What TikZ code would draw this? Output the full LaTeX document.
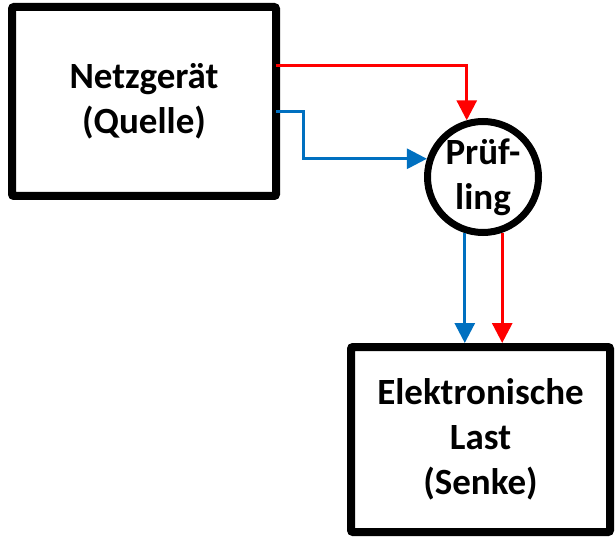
\documentclass[tikz,border=0pt]{standalone}
\usepackage{fontspec}
\setmainfont{Carlito}
\usetikzlibrary{arrows.meta,calc}
\definecolor{ored}{RGB}{255,0,0}
\definecolor{oblue}{RGB}{0,112,192}
\begin{document}
\begin{tikzpicture}[x=1pt,y=-1pt,
  lbl/.style={font=\fontsize{37}{45}\selectfont\bfseries,align=center},
  blockbox/.style={draw=black,line width=8pt,rounded corners=2pt,inner sep=0pt,outer sep=0pt,fill=white,lbl},
  dut/.style={draw=black,line width=7pt,circle,inner sep=0pt,minimum size=111pt,fill=white,lbl},
  wire/.style={line width=3pt,-{Triangle[length=20pt,width=20pt]}},
  redw/.style={wire,draw=ored},
  bluew/.style={wire,draw=oblue}]
\useasboundingbox (0,0) rectangle (615,537);
\node[blockbox,minimum width=264pt,minimum height=189pt] (src) at (144,101.5) {Netzgerät\\(Quelle)};
\node[blockbox,minimum width=259pt,minimum height=185pt,outer sep=4pt] (load) at (480.5,439.5) {Elektronische\\Last\\(Senke)};
\node[dut] (pr) at (483,177) {Prüf-\\ling};
\coordinate (r0) at (276,66);
\coordinate (b0) at (276,112);
\draw[redw] (r0) -| (pr.106.7);
\draw[bluew] (b0) -- (303,112) |- (pr.162.2);
\draw[bluew] (pr.252.2) -- (pr.252.2 |- load.north);
\draw[redw] (pr.289.8) -- (pr.289.8 |- load.north);
\end{tikzpicture}
\end{document}
